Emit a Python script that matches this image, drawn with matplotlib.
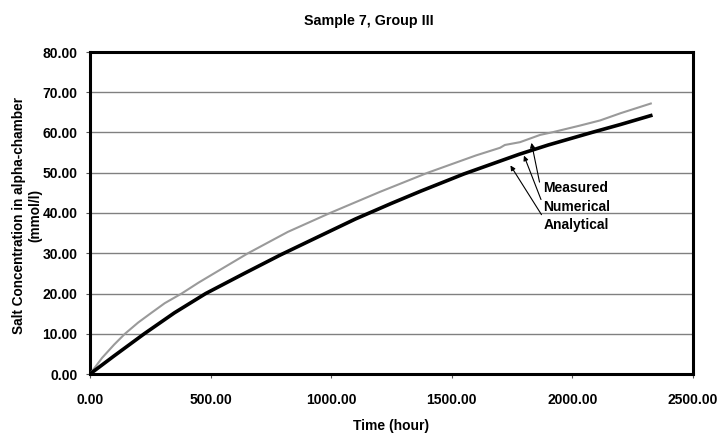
import matplotlib
matplotlib.use("Agg")
import matplotlib.pyplot as plt

plt.rcParams['font.family'] = ['Liberation Sans', 'DejaVu Sans']
plt.rcParams['font.weight'] = 'bold'

# Measured (gray) series
meas_t = [0, 50, 100, 145, 200, 250, 310, 380, 450, 520, 655, 820, 995, 1200,
          1400, 1600, 1700, 1720, 1783, 1866, 1920, 2030, 2115, 2200, 2325]
meas_c = [0, 4.0, 7.3, 10, 12.8, 15.0, 17.6, 20, 22.7, 25.2, 30, 35.3, 40, 45.2,
          50, 54.3, 56.2, 56.9, 57.6, 59.4, 60.1, 61.7, 63.0, 64.8, 67.2]

# Analytical / numerical (black) series
anal_t = [0, 100, 225, 350, 480, 640, 790, 950, 1100, 1250, 1370, 1550, 1780,
          1900, 2080, 2200, 2325]
anal_c = [0, 4.5, 10, 15.2, 20, 25, 29.6, 34.2, 38.5, 42.4, 45.4, 49.7, 54.6,
          56.9, 60, 62.0, 64.2]

x_ticks = [0, 500, 1000, 1500, 2000, 2500]
y_ticks = [0, 10, 20, 30, 40, 50, 60, 70, 80]

fig = plt.figure(figsize=(7.2, 4.37), dpi=100)
ax = fig.add_axes([90/720, 1-374/437, (693-90)/720, (374-52)/437])

for y in y_ticks[1:-1]:
    ax.axhline(y, color='#808080', lw=1.0, zorder=1)

ax.plot(meas_t, meas_c, color='#9a9a9a', lw=1.5, zorder=3)
ax.plot(anal_t, anal_c, color='black', lw=2.6, zorder=4)

ax.set_xlim(0, 2500)
ax.set_ylim(0, 80)
ax.set_xticks(x_ticks)
ax.set_yticks(y_ticks)
ax.set_xticklabels([f"{v:.2f}" for v in x_ticks], fontsize=10, fontweight='bold')
ax.set_yticklabels([f"{v:.2f}" for v in y_ticks], fontsize=10, fontweight='bold')
ax.tick_params(direction='out', length=3, width=0.8, color='#555555')
ax.tick_params(axis='x', pad=11)
ax.tick_params(axis='y', pad=6)
for s in ax.spines.values():
    s.set_linewidth(2.2)
    s.set_color('black')

ax.set_xlabel('Time (hour)', fontsize=10, fontweight='bold', labelpad=8)
fig.text(27/720, 1-215/437, 'Salt Concentration in alpha-chamber\n(mmol/l)',
         rotation=90, ha='center', va='center', fontsize=9.8, fontweight='bold',
         multialignment='center', linespacing=1.2)
fig.text(369/720, 1-21/437, 'Sample 7, Group III', ha='center', va='center',
         fontsize=10.3, fontweight='bold')

arrow = dict(arrowstyle='-|>', color='black', lw=0.8, mutation_scale=7)
ax.annotate('', xy=(1828, 58.1), xytext=(1866, 47.0), arrowprops=arrow, zorder=5)
ax.annotate('', xy=(1795, 54.9), xytext=(1874, 42.7), arrowprops=arrow, zorder=5)
ax.annotate('', xy=(1737, 52.4), xytext=(1878, 39.0), arrowprops=arrow, zorder=5)
ax.text(1880, 46.2, 'Measured', fontsize=10, fontweight='bold', va='center', ha='left')
ax.text(1880, 41.6, 'Numerical', fontsize=10, fontweight='bold', va='center', ha='left')
ax.text(1880, 37.1, 'Analytical', fontsize=10, fontweight='bold', va='center', ha='left')

fig.savefig('out.png', dpi=100)
